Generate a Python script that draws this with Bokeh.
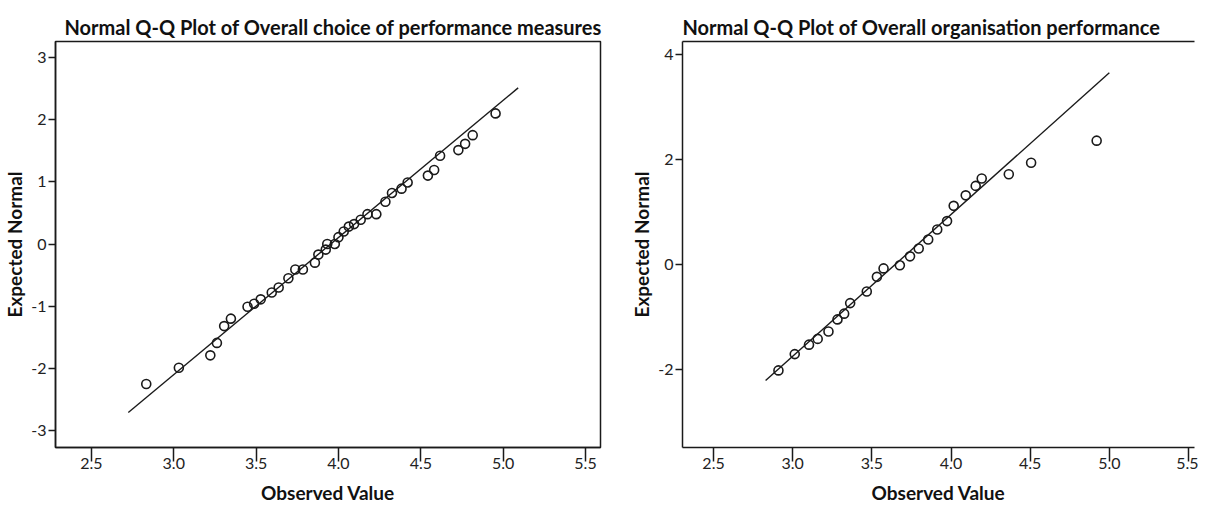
from bokeh.plotting import figure
from bokeh.layouts import row
from bokeh.models import Range1d, FixedTicker, LinearAxis, NumeralTickFormatter
from bokeh.embed import file_html
from bokeh.resources import INLINE

# ---------------- data ----------------
left_title = "Normal Q-Q Plot of Overall choice of performance measures"
left_observed = [2.833, 3.031, 3.222, 3.262, 3.306, 3.347, 3.448, 3.488, 3.528, 3.595,
                 3.637, 3.696, 3.738, 3.784, 3.857, 3.878, 3.923, 3.932, 3.978, 4.000,
                 4.032, 4.063, 4.095, 4.135, 4.176, 4.230, 4.285, 4.325, 4.383, 4.420,
                 4.543, 4.581, 4.617, 4.728, 4.769, 4.815, 4.954]
left_expected = [-2.25, -1.99, -1.79, -1.59, -1.32, -1.20, -1.01, -0.96, -0.89, -0.78,
                 -0.70, -0.55, -0.41, -0.41, -0.30, -0.17, -0.09, 0.00, 0.00, 0.11,
                 0.20, 0.28, 0.32, 0.39, 0.48, 0.48, 0.68, 0.82, 0.89, 0.99,
                 1.10, 1.19, 1.42, 1.51, 1.61, 1.75, 2.10]
left_line_x = [2.724, 5.091]
left_line_y = [-2.71, 2.51]
left_xticks = [2.5, 3.0, 3.5, 4.0, 4.5, 5.0, 5.5]
left_yticks = [-3, -2, -1, 0, 1, 2, 3]

right_title = "Normal Q-Q Plot of Overall organisation performance"
right_observed = [2.910, 3.013, 3.103, 3.158, 3.226, 3.283, 3.325, 3.363, 3.468, 3.532,
                  3.574, 3.677, 3.741, 3.796, 3.856, 3.913, 3.975, 4.017, 4.093, 4.156,
                  4.194, 4.365, 4.506, 4.920]
right_expected = [-2.01, -1.70, -1.52, -1.41, -1.27, -1.04, -0.93, -0.73, -0.51, -0.23,
                  -0.07, -0.01, 0.16, 0.31, 0.48, 0.67, 0.83, 1.12, 1.32, 1.50,
                  1.64, 1.72, 1.94, 2.36]
right_line_x = [2.829, 5.0]
right_line_y = [-2.20, 3.65]
right_xticks = [2.5, 3.0, 3.5, 4.0, 4.5, 5.0, 5.5]
right_yticks = [-2, 0, 2, 4]

FONT = "Lato"
INK = "#1a1a1a"


def make_plot(title, xs, ys, lx, ly, xr, yr, xticks, yticks, width,
              bl, br, title_offset, outline):
    p = figure(width=width, height=506, x_range=Range1d(*xr), y_range=Range1d(*yr),
               output_backend="svg", toolbar_location=None,
               min_border_left=bl, min_border_right=br,
               min_border_top=41, min_border_bottom=59)
    p.grid.visible = False
    p.background_fill_color = "white"
    p.border_fill_color = "white"

    xa = p.below[0]
    ya = p.left[0]

    if outline:
        p.outline_line_color = INK
        p.outline_line_width = 1.5
    else:
        p.outline_line_color = None
        top = LinearAxis(major_tick_out=0, major_tick_in=0, minor_tick_out=0,
                         minor_tick_in=0, major_label_text_font_size="0px",
                         major_label_standoff=0,
                         axis_line_color=INK, axis_line_width=1.5)
        top.ticker = FixedTicker(ticks=[])
        p.add_layout(top, "above")

    p.title.text = title
    p.title.text_font = FONT
    p.title.text_font_size = "20px"
    p.title.text_font_style = "bold"
    p.title.text_color = "#111111"
    p.title.offset = title_offset
    p.title.standoff = 5

    xa.ticker = FixedTicker(ticks=xticks)
    xa.formatter = NumeralTickFormatter(format="0.0")
    xa.axis_label = "Observed Value"
    xa.axis_label_text_font = FONT
    xa.axis_label_text_font_size = "19px"
    xa.axis_label_text_font_style = "bold"
    xa.axis_label_text_color = "#111111"
    xa.axis_label_standoff = 9
    xa.major_tick_out = 14
    xa.major_tick_in = 0
    xa.minor_tick_out = 0
    xa.minor_tick_in = 0
    xa.major_label_standoff = -4
    xa.major_label_text_font = FONT
    xa.major_label_text_font_size = "16px"
    xa.major_label_text_color = "#222222"
    xa.axis_line_color = INK
    xa.axis_line_width = 1.5
    xa.major_tick_line_color = INK
    xa.major_tick_line_width = 1.5

    ya.ticker = FixedTicker(ticks=yticks)
    ya.formatter = NumeralTickFormatter(format="0")
    ya.axis_label = "Expected Normal"
    ya.axis_label_text_font = FONT
    ya.axis_label_text_font_size = "19px"
    ya.axis_label_text_font_style = "bold"
    ya.axis_label_text_color = "#111111"
    ya.axis_label_standoff = 2
    ya.major_tick_out = 7
    ya.major_tick_in = 0
    ya.minor_tick_out = 0
    ya.minor_tick_in = 0
    ya.major_label_standoff = 2
    ya.major_label_text_font = FONT
    ya.major_label_text_font_size = "16px"
    ya.major_label_text_color = "#222222"
    ya.axis_line_color = INK
    ya.axis_line_width = 1.5
    ya.major_tick_line_color = INK
    ya.major_tick_line_width = 1.5

    p.line(lx, ly, line_color=INK, line_width=1.4)
    p.scatter(xs, ys, marker="circle", size=9, fill_color=None,
              line_color=INK, line_width=1.6)
    return p


left = make_plot(left_title, left_observed, left_expected, left_line_x, left_line_y,
                 (2.282, 5.591), (-3.272, 3.256), left_xticks, left_yticks,
                 604, 45, 4, 9, True)
right = make_plot(right_title, right_observed, right_expected, right_line_x, right_line_y,
                  (2.304, 5.538), (-3.476, 4.246), right_xticks, right_yticks,
                  594, 78, 4, 0, False)

layout = row(left, right)
open("out.html", "w").write(file_html(layout, INLINE))
